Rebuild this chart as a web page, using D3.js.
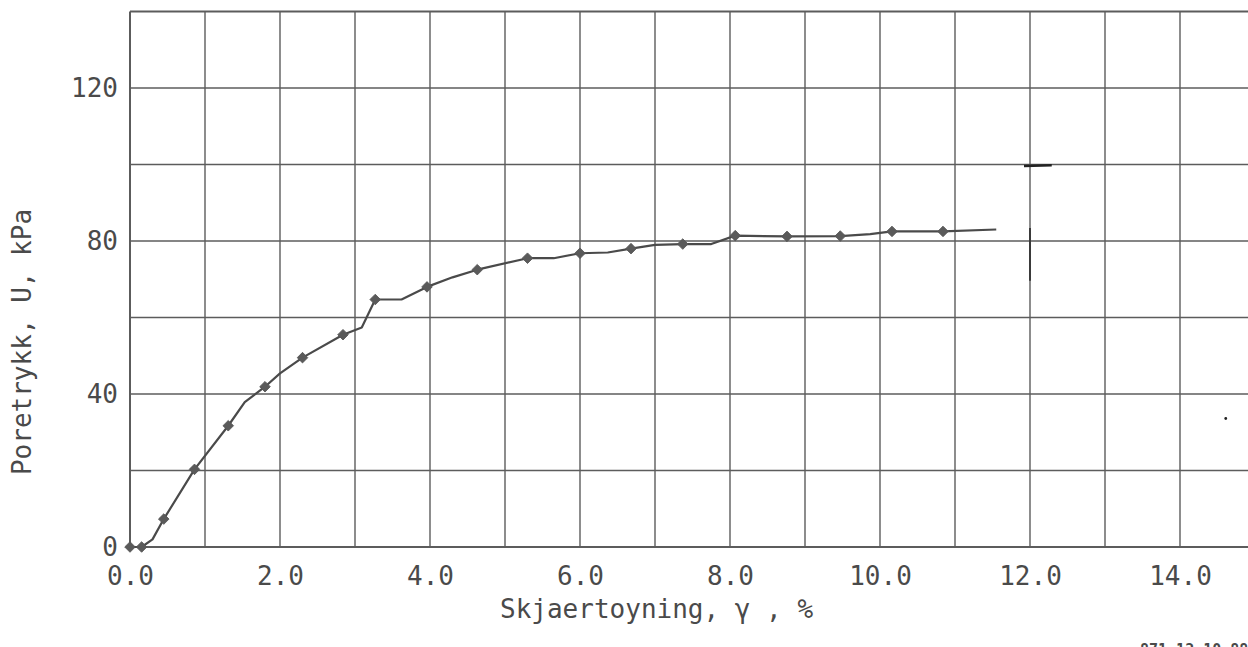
<!DOCTYPE html>
<html>
<head>
<meta charset="utf-8">
<script src="https://cdn.jsdelivr.net/npm/d3@7"></script>
<style>
  html, body { margin: 0; padding: 0; background: #fff; }
  svg { display: block; }
  text { font-family: "DejaVu Sans Mono", "Liberation Mono", monospace; fill: #4a4a4a; }
</style>
</head>
<body>
<svg id="chart" width="1248" height="647"></svg>
<script>
// ---- data ----
const curveStrain = [0, 0.155, 0.30, 0.45, 0.86, 1.31, 1.53, 1.80, 2.00, 2.30, 2.84, 3.09, 3.27, 3.62, 3.96, 4.30, 4.63, 5.30, 5.65, 6.00, 6.37, 6.68, 7.00, 7.37, 7.75, 8.07, 8.76, 9.47, 9.87, 10.16, 10.84, 11.55];
const curvePressure = [0, 0, 2.0, 7.3, 20.3, 31.7, 37.9, 41.9, 45.4, 49.5, 55.5, 57.4, 64.7, 64.7, 68.0, 70.5, 72.5, 75.5, 75.5, 76.8, 77.0, 78.0, 79.0, 79.2, 79.2, 81.4, 81.2, 81.3, 81.8, 82.5, 82.5, 83.0];
const markerStrain = [0, 0.155, 0.45, 0.86, 1.31, 1.80, 2.30, 2.84, 3.27, 3.96, 4.63, 5.30, 6.00, 6.68, 7.37, 8.07, 8.76, 9.47, 10.16, 10.84];
const markerPressure = [0, 0, 7.3, 20.3, 31.7, 41.9, 49.5, 55.5, 64.7, 68.0, 72.5, 75.5, 76.8, 78.0, 79.2, 81.4, 81.2, 81.3, 82.5, 82.5];
const xTickValues = [0, 2, 4, 6, 8, 10, 12, 14];
const yTickValues = [0, 40, 80, 120];
const xGridValues = [0,1,2,3,4,5,6,7,8,9,10,11,12,13,14,15,16];
const yGridValues = [0,20,40,60,80,100,120,140];
const xTitle = "Skjaertoyning,  \u03b3 , %";
const yTitle = "Poretrykk, U, kPa";
const stampText = "871 12 10 88";
// stray plotter marks on the sheet (data units)
const strayDash = [[11.92, 99.6], [12.29, 99.8]];
const strayVertical = [[12.0, 83.4], [12.0, 69.6]];
const strayDot = [14.61, 33.6];

// ---- chart ----
const svg = d3.select("#chart");
const x = d3.scaleLinear().domain([0, 16]).range([130, 1330]);
const y = d3.scaleLinear().domain([0, 140]).range([547, 11.5]);

const grid = svg.append("g");
grid.selectAll("line.v").data(xGridValues).join("line")
  .attr("x1", d => x(d)).attr("x2", d => x(d))
  .attr("y1", y(0)).attr("y2", y(140))
  .attr("stroke", "#5c5c5c").attr("stroke-width", d => d === 0 ? 2 : 1.4);
grid.selectAll("line.h").data(yGridValues).join("line")
  .attr("x1", x(0)).attr("x2", x(16))
  .attr("y1", d => y(d)).attr("y2", d => y(d))
  .attr("stroke", "#5c5c5c").attr("stroke-width", d => (d === 0 || d === 140) ? 2 : 1.4);

// axes (labels only)
const xAxis = d3.axisBottom(x).tickValues(xTickValues).tickFormat(d3.format(".1f")).tickSize(0).tickPadding(20);
const gx = svg.append("g").attr("transform", `translate(0,${y(0)})`).call(xAxis);
gx.select(".domain").remove();
gx.selectAll("text").attr("font-size", 26).attr("fill", "#4a4a4a")
  .style("font-family", "'DejaVu Sans Mono', monospace");

const yAxis = d3.axisLeft(y).tickValues(yTickValues).tickFormat(d3.format("d")).tickSize(0).tickPadding(12);
const gy = svg.append("g").attr("transform", `translate(${x(0)},0)`).call(yAxis);
gy.select(".domain").remove();
gy.selectAll("text").attr("font-size", 26).attr("fill", "#4a4a4a").attr("dy", "0.33em")
  .style("font-family", "'DejaVu Sans Mono', monospace");

// titles
svg.append("text").attr("x", 500).attr("y", 618).attr("font-size", 26).text(xTitle);
svg.append("text").attr("transform", "translate(31,342) rotate(-90)")
  .attr("text-anchor", "middle").attr("font-size", 26).text(yTitle);
svg.append("text").attr("x", 1140).attr("y", 655).attr("font-size", 15)
  .attr("font-weight", "bold").attr("fill", "#333").text(stampText);

// curve
const pts = curveStrain.map((s, i) => [s, curvePressure[i]]);
const line = d3.line().x(d => x(d[0])).y(d => y(d[1]));
svg.append("path").datum(pts).attr("d", line)
  .attr("fill", "none").attr("stroke", "#4a4a4a").attr("stroke-width", 2.2)
  .attr("stroke-linejoin", "round");

const mpts = markerStrain.map((s, i) => [s, markerPressure[i]]);
svg.selectAll("path.marker").data(mpts).join("path")
  .attr("class", "marker")
  .attr("d", d3.symbol().type(d3.symbolSquare).size(56))
  .attr("transform", d => `translate(${x(d[0])},${y(d[1])}) rotate(45)`)
  .attr("fill", "#5a5a5a").attr("stroke", "#555").attr("stroke-width", 0.8);

// stray marks
svg.append("path").datum(strayDash).attr("d", line).attr("stroke", "#222").attr("stroke-width", 2.5).attr("fill", "none");
svg.append("path").datum(strayVertical).attr("d", line).attr("stroke", "#3a3a3a").attr("stroke-width", 2).attr("fill", "none");
svg.append("circle").attr("cx", x(strayDot[0])).attr("cy", y(strayDot[1])).attr("r", 1.4).attr("fill", "#222");
</script>
</body>
</html>
